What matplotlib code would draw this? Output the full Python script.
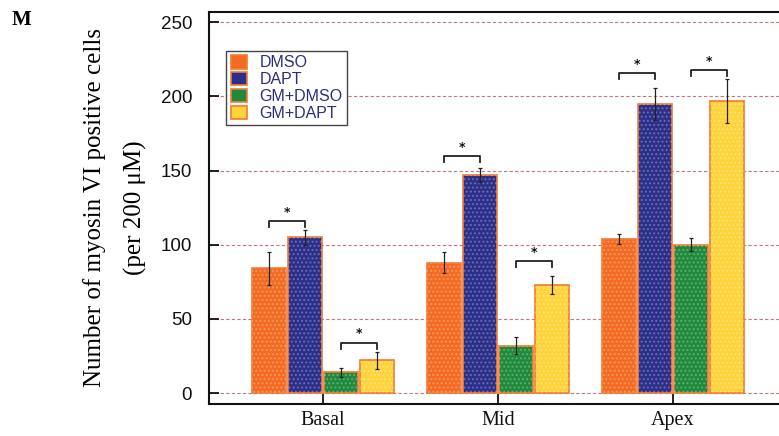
import numpy as np
import matplotlib
matplotlib.use("Agg")
import matplotlib.pyplot as plt

regions = ["Basal", "Mid", "Apex"]
groups = ["DMSO", "DAPT", "GM+DMSO", "GM+DAPT"]
means = {
    "DMSO": [84, 88, 104],
    "DAPT": [105, 147, 195],
    "GM+DMSO": [14, 32, 100],
    "GM+DAPT": [22, 73, 197],
}
errs = {
    "DMSO": [11, 7, 3.5],
    "DAPT": [5, 5, 11],
    "GM+DMSO": [3, 6, 4.5],
    "GM+DAPT": [6, 6, 15],
}
# significance brackets: (region index, bar a, bar b, bracket height)
sig_pairs = [
    (0, 0, 1, 116), (0, 2, 3, 34),
    (1, 0, 1, 160), (1, 2, 3, 89),
    (2, 0, 1, 216), (2, 2, 3, 218),
]

colors = ["#F36A21", "#2C2F8A", "#1F8A3B", "#FFD43B"]
edge = "#F47A32"

fig = plt.figure(figsize=(7.79, 4.36), dpi=100)
ax = fig.add_axes([0.268, 0.0734, 1.01 - 0.268, 0.9725 - 0.0734])

x = np.arange(len(regions))
step = 0.206
width = 0.194
offsets = (np.arange(4) - 1.5) * step

for i, g in enumerate(groups):
    ax.bar(x + offsets[i], means[g], width, color=colors[i], edgecolor=edge,
           linewidth=1.2, label=g, zorder=3)
    # dotted texture
    ax.bar(x + offsets[i], means[g], width, color="none", edgecolor=(1, 1, 1, 0.25),
           linewidth=0, hatch="....", zorder=3.5)
    ax.errorbar(x + offsets[i], means[g], yerr=errs[g], fmt="none", ecolor="#222222",
                elinewidth=0.9, capsize=1.5, capthick=0.9, zorder=4)

for r, a, b, h in sig_pairs:
    xa = x[r] + offsets[a]
    xb = x[r] + offsets[b]
    ax.plot([xa, xa, xb, xb], [h - 4, h, h, h - 4], color="#222222", lw=1.3, zorder=5)
    ax.text((xa + xb) / 2, h + 3.5, "*", ha="center", va="baseline", fontsize=9,
            fontweight="bold", color="#111111", zorder=5)

ax.set_ylim(-7.4, 257)
ax.set_xlim(-0.651, 2.651)
ax.set_yticks([0, 50, 100, 150, 200, 250])
ax.set_xticks(x)
ax.set_xticklabels(regions, family="Liberation Serif", fontsize=14.5)
for lab in ax.get_yticklabels():
    lab.set_family("Liberation Sans")
    lab.set_fontsize(13.5)
ax.tick_params(axis="both", direction="in", length=7, width=1.3, colors="#111111")
ax.tick_params(axis="y", pad=12)
ax.tick_params(axis="x", pad=5)

ax.yaxis.grid(True, color="#c07878", linestyle=(0, (3, 2)), linewidth=0.8, zorder=0)
ax.set_axisbelow(True)
for s in ax.spines.values():
    s.set_linewidth(1.5)
    s.set_color("#111111")

ax.set_ylabel("Number of myosin VI positive cells\n(per 200 \u03bcM)",
              family="Liberation Serif", fontsize=18, linespacing=2.0, labelpad=10)

leg = ax.legend(loc="upper left", bbox_to_anchor=(0.016, 0.922), fancybox=False,
                edgecolor="#444444", framealpha=1, borderpad=0.3, labelspacing=0.1,
                handlelength=1.0, handleheight=0.9, handletextpad=0.8,
                prop={"family": "Liberation Sans", "size": 11.5})
leg.get_frame().set_linewidth(1.0)
for t in leg.get_texts():
    t.set_color("#2B2F7A")

fig.text(0.015, 0.955, "M", family="Liberation Serif", fontweight="bold", fontsize=15,
         ha="left", va="center")

fig.savefig("out.png", dpi=100)
